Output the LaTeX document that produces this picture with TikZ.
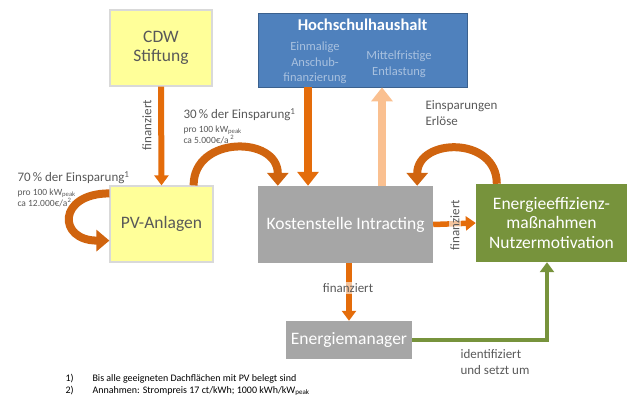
\documentclass[tikz,border=0pt]{standalone}
\usepackage{fontspec}
\setmainfont{Carlito}
\usetikzlibrary{arrows.meta}
\definecolor{boxyellow}{HTML}{FFFF99}
\definecolor{boxblue}{HTML}{4F81BD}
\definecolor{boxgray}{HTML}{A6A6A6}
\definecolor{boxgreen}{HTML}{77933C}
\definecolor{arroworange}{HTML}{E46C0A}
\definecolor{arrowpeach}{HTML}{FAC090}
\definecolor{arrowbrown}{HTML}{D0640F}
\definecolor{labelgray}{HTML}{595959}
\definecolor{hhtext}{HTML}{A9C1DF}

\begin{document}
\begin{tikzpicture}[
    x=1pt, y=-1pt,
    box/.style={inner sep=0pt, align=center, font=\fontsize{17.5}{19.5}\selectfont},
    yellowbox/.style={box, fill=boxyellow, draw=black!15, line width=1.2pt, text=labelgray},
    graybox/.style={box, fill=boxgray, text=white},
    greenbox/.style={box, fill=boxgreen, text=white},
    bluebox/.style={box, fill=boxblue, draw=boxblue!75!black, line width=0.8pt},
    subtext/.style={align=center, text=hhtext, font=\fontsize{12.5}{15.5}\selectfont},
    lbl/.style={align=left, text=labelgray, font=\fontsize{13}{16}\selectfont},
    small/.style={align=left, text=labelgray, font=\fontsize{9.5}{11.5}\selectfont},
    note/.style={anchor=west, font=\fontsize{10}{12}\selectfont},
    over/.style={fill=white, fill opacity=0.6, text opacity=1, inner sep=1pt},
    flow/.style={draw=arroworange, line width=6pt, -{Triangle[width=14pt,length=10pt]}},
    bigflow/.style={flow, line width=8.5pt, -{Triangle[width=21pt,length=14pt]}},
    backflow/.style={bigflow, draw=arrowpeach},
    loopflow/.style={draw=arrowbrown, line width=8pt, -{Triangle[width=21pt,length=13pt]}}
]
\useasboundingbox (0,0) rectangle (628,395);

% Boxes
\node[yellowbox, minimum width=102pt, minimum height=76pt] (cdw) at (161,48) {CDW\\Stiftung};
\node[bluebox, minimum width=209pt, minimum height=74pt] (hh) at (362.5,50) {};
\node[text=white, font=\fontsize{16.5}{19}\selectfont\bfseries] (hhtitle) at (362.5,25) {Hochschulhaushalt};
\node[subtext] (anschub) at (315,63) {Einmalige\\Anschub-\\finanzierung};
\node[subtext] (entlastung) at (399,64) {Mittelfristige\\Entlastung};
\node[yellowbox, minimum width=103pt, minimum height=76pt] (pv) at (161.5,224) {PV-Anlagen};
\node[graybox, minimum width=175pt, minimum height=77pt] (ks) at (345.5,224.5) {Kostenstelle Intracting};
\node[greenbox, minimum width=151pt, minimum height=78pt] (ee) at (551.5,223) {Energieeffizienz-\\maßnahmen\\Nutzermotivation};
\node[graybox, minimum width=126pt, minimum height=38pt] (em) at (349,340) {Energiemanager};

% Helper coordinates for arrow positions
\coordinate (down) at (308,0);
\coordinate (up) at (382,0);
\coordinate (link) at (547,0);

% Arrows
\draw[flow] (cdw.south) -- (pv.north);
\draw[bigflow] (hh.south -| down) -- (ks.north -| down);
\draw[backflow] (ks.north -| up) -- (hh.south -| up);
\draw[flow, line width=5.5pt] (ks.east) -- (ee.west);
\draw[flow, line width=5.5pt] (ks.south -| em.north) -- (em.north);
\draw[draw=boxgreen, line width=4pt, -{Triangle[width=14pt,length=10pt]}]
    (em.east) -| (ee.south -| link);

% Curved arrows
\draw[loopflow] ([xshift=-20pt]pv.north east) .. controls +(0,-50) and +(0,-50) .. ([xshift=20pt]ks.north west);
\draw[loopflow] ([yshift=-8pt]pv.north west) .. controls +(-52,0) and +(-52,0) .. ([yshift=22pt]pv.south west);
\draw[loopflow] ([xshift=21pt]ee.north west) .. controls +(0,-48) and +(0,-48) .. ([xshift=-16pt]ks.north east);

% Labels
\node[lbl, rotate=90] (fin1) at (147,125) {finanziert};
\node[lbl, over, rotate=90] (fin2) at (455,225) {finanziert};
\node[lbl, over] (fin3) at (348,288) {finanziert};
\node[lbl, anchor=west] (p30) at (180,115) {30\,\% der Einsparung\textsuperscript{1}};
\node[small, anchor=north west] (p30sub) at (180,122) {pro 100 kW\textsubscript{peak}\\ca 5.000€/a\,\textsuperscript{2}};
\node[lbl, anchor=west] (p70) at (14,178) {70\,\% der Einsparung\textsuperscript{1}};
\node[small, anchor=north west] (p70sub) at (14,185) {pro 100 kW\textsubscript{peak}\\ca 12.000€/a\textsuperscript{2}};
\node[lbl, anchor=west] (erloese) at (422,113) {Einsparungen\\Erlöse};
\node[lbl, anchor=west] (ident) at (457,362) {identifiziert\\und setzt um};

% Footnotes
\node[note] (fn1) at (62,379) {1)};
\node[note] (fn1t) at (89,379) {Bis alle geeigneten Dachflächen mit PV belegt sind};
\node[note] (fn2) at (62,391) {2)};
\node[note] (fn2t) at (89,391) {Annahmen: Strompreis 17 ct/kWh; 1000 kWh/kW\textsubscript{peak}};
\end{tikzpicture}
\end{document}
